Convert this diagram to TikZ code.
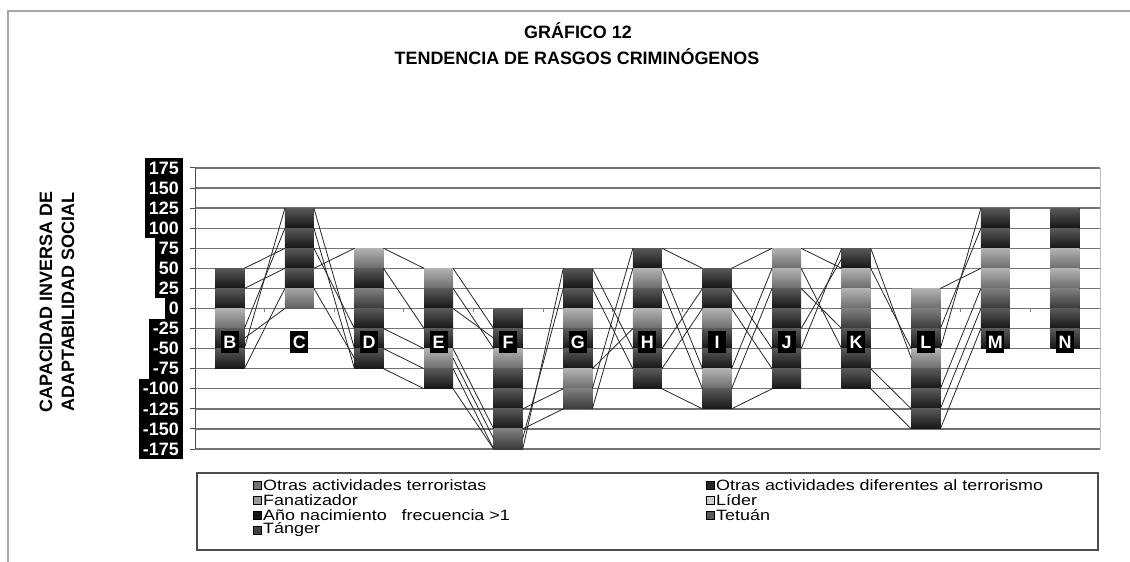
\documentclass[tikz,border=0pt]{standalone}
\usepackage{fontspec}
\setmainfont{Liberation Sans}
\newfontfamily\legfont[FakeStretch=1.2]{Liberation Sans}

\begin{document}
\begin{tikzpicture}[x=1bp,y=-1bp,
	declare function={vy(\v)=308.5-0.8029*\v; cx(\i)=229.8+69.6*\i;}]
	\tikzset{grid line/.style={black!55,line width=1.4bp}}
	\tikzset{ylab/.style={fill=black,text=white,anchor=east,inner xsep=4bp,inner ysep=0bp,minimum height=20.1bp,font=\bfseries\fontsize{18}{18}\selectfont}}
	\tikzset{cat/.style={fill=black,text=white,inner sep=1.5bp,minimum width=18bp,minimum height=22bp,font=\bfseries\fontsize{18}{18}\selectfont}}
	\tikzset{sline/.style={black!85,line width=0.8bp}}
	\tikzset{key/.style={draw=black,line width=0.4bp,minimum size=8bp,inner sep=0pt}}
	\tikzset{legtext/.style={anchor=west,inner sep=0pt,font=\legfont\fontsize{15}{15}\selectfont}}

	\useasboundingbox (0,0) rectangle (1130,562);
	\draw[gray!70,line width=2bp] (8,562) -- (8,11) -- (1130,11);

	\node[font=\bfseries\fontsize{18}{18}\selectfont] (tit1) at (578,31) {GRÁFICO 12};
	\node[font=\bfseries\fontsize{18}{18}\selectfont] (tit2) at (577,57) {TENDENCIA DE RASGOS CRIMINÓGENOS};
	\node[rotate=90,align=center,font=\bfseries\fontsize{18}{22}\selectfont] (ytit) at (57,302)
		{CAPACIDAD INVERSA DE\\ADAPTABILIDAD SOCIAL};

	\foreach \v [count=\k] in {175,150,...,-175} {
		\draw[grid line] (195,{vy(\v)}) -- (1100,{vy(\v)});
		\draw[black!70,line width=1bp] (190,{vy(\v)}) -- (195,{vy(\v)});
		\node[ylab] (y\k) at (183,{vy(\v)}) {\v};
	}
	\draw[black!70,line width=1bp] (195,{vy(175)}) -- (195,{vy(-175)});
	\draw[gray!50,line width=1bp] (1100,{vy(175)}) -- (1100,{vy(-175)});
	\foreach \k in {1,...,12}
		\draw[gray,line width=0.8bp] ({195+69.6*\k},{vy(0)}) -- ({195+69.6*\k},{vy(0)+4});

	\foreach \n/\tp/\segs [count=\i from 0] in {
			B/50/{65,65,30,65,65},
			C/125/{65,65,65,65,35},
			D/75/{30,65,50,65,65,65},
			E/50/{30,65,65,65,30,65},
			F/0/{65,65,30,65,65,65,50},
			G/50/{65,65,30,65,65,30,50},
			H/75/{65,30,65,30,65,65,65},
			I/50/{65,65,30,65,65,30,65},
			J/75/{30,30,65,65,65,65,65},
			K/75/{65,30,30,50,65,65,65},
			L/25/{30,50,65,30,65,65,65},
			M/125/{65,65,30,30,50,65,65},
			N/125/{65,65,30,30,50,65,65}} {
		\foreach \s [count=\k] in \segs {
			\pgfmathtruncatemacro\bc{min(\s+28,92)}
			\fill[top color=black!\s,bottom color=black!\bc]
				({cx(\i)-14.5},{vy(\tp-25*(\k-1))}) rectangle ({cx(\i)+14.5},{vy(\tp-25*\k)});
		}
	}

	\foreach \g/\a/\b in {
			0/50/75, 0/25/50, 0/-25/100, 0/-50/125, 0/-75/25, 0/-37/0,
			1/125/-50, 1/100/-75, 1/75/-25, 1/50/75, 1/25/-62,
			2/75/50, 2/50/-25, 2/-25/-50, 2/-50/-75, 2/-75/-100,
			3/50/-25, 3/25/-50, 3/0/-37, 3/-50/-150, 3/-75/-175, 3/-100/-175, 3/-62/-162,
			4/-175/50, 4/-162/25, 4/-150/-125, 4/-125/-100,
			5/50/-50, 5/25/-75, 5/-75/-25, 5/-100/75, 5/-125/50,
			6/75/50, 6/-100/-125, 6/50/-75, 6/25/-100, 6/-50/25, 6/-75/0,
			7/50/75, 7/25/-50, 7/0/-75, 7/-75/50, 7/-100/25, 7/-125/-100,
			8/75/50, 8/50/-50, 8/25/-25, 8/-50/75, 8/-25/62,
			9/75/-62, 9/50/-50, 9/-75/-125, 9/-100/-150,
			10/25/50, 10/-25/100, 10/-50/125, 10/-100/25, 10/-125/0, 10/-150/-25}
		\draw[sline] ({cx(\g)+14.5},{vy(\a)}) -- ({cx(\g+1)-14.5},{vy(\b)});

	\foreach \n [count=\i from 0] in {B,C,D,E,F,G,H,I,J,K,L,M,N}
		\node[cat] (c\n) at ({cx(\i)},342) {\n};

	\draw[black!70,line width=1.2bp] (197,473) rectangle (1098,550);
	\foreach \t/\f/\px/\py [count=\k] in {
			Otras actividades terroristas/black!55/257/485,
			Fanatizador/black!40/257/500,
			Año nacimiento \ \ frecuencia >1/black!90/257/515,
			Tánger/black!75/257/530,
			Otras actividades diferentes al terrorismo/black!85/710/485,
			Líder/black!20/710/500,
			Tetuán/black!65/710/515} {
		\node[key,fill=\f] (k\k) at (\px,\py) {};
		\node[legtext] (e\k) at (\px+6,\py) {\t};
	}
\end{tikzpicture}
\end{document}
